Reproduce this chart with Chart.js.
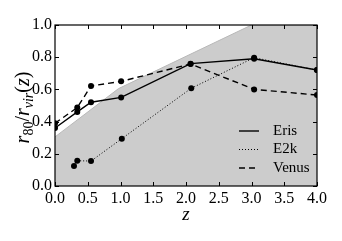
<!DOCTYPE html>
<html>
<head>
<meta charset="utf-8">
<script src="https://cdn.jsdelivr.net/npm/chart.js@4/dist/chart.umd.min.js"></script>
<style>
  html, body { margin: 0; padding: 0; background: #fff; }
  #wrap { width: 342px; height: 241px; }
</style>
</head>
<body>
<div id="wrap"><canvas id="myChart"></canvas></div>
<script>
// redshift / r80 values
const erisZ = [0.0, 0.34, 0.55, 1.01, 2.07, 3.04, 4.0];
const erisR = [0.36, 0.46, 0.52, 0.55, 0.76, 0.79, 0.72];

const e2kZ = [0.29, 0.34, 0.55, 1.02, 2.08, 3.04, 4.0];
const e2kR = [0.125, 0.157, 0.155, 0.294, 0.607, 0.797, 0.72];

const venusZ = [0.0, 0.34, 0.55, 1.01, 2.07, 3.04, 4.0];
const venusR = [0.39, 0.487, 0.621, 0.65, 0.758, 0.60, 0.565];

// upper edge of the grey band
const bandZ = [0.0, 0.97, 3.0, 4.0];
const bandR = [0.305, 0.605, 1.0, 1.0];

const xTicks = [0, 0.5, 1, 1.5, 2, 2.5, 3, 3.5, 4];
const yTicks = [0, 0.2, 0.4, 0.6, 0.8, 1.0];

const serif = "'Liberation Serif', 'DejaVu Serif', serif";

const pts = (xs, ys) => xs.map((x, i) => ({ x: x, y: ys[i] }));

const lineSet = (label, xs, ys, dash, width) => ({
    label: label,
    data: pts(xs, ys),
    showLine: true,
    borderColor: "#000",
    backgroundColor: "#000",
    borderWidth: width,
    borderDash: dash,
    pointRadius: 3,
    pointBorderWidth: 0,
    pointBackgroundColor: "#000",
    fill: false,
    tension: 0,
});

// inward ticks on all four sides + black frame
const frame = {
    id: "frame",
    afterDatasetsDraw(chart) {
        const ctx = chart.ctx;
        const a = chart.chartArea;
        const xs = chart.scales.x, ys = chart.scales.y;
        ctx.save();
        ctx.strokeStyle = "#000";
        ctx.lineWidth = 1;
        ctx.beginPath();
        xTicks.forEach((v) => {
            const px = Math.round(xs.getPixelForValue(v)) + 0.5;
            ctx.moveTo(px, a.bottom); ctx.lineTo(px, a.bottom - 4);
            ctx.moveTo(px, a.top); ctx.lineTo(px, a.top + 4);
        });
        yTicks.forEach((v) => {
            const py = Math.round(ys.getPixelForValue(v)) + 0.5;
            ctx.moveTo(a.left, py); ctx.lineTo(a.left + 4, py);
            ctx.moveTo(a.right, py); ctx.lineTo(a.right - 4, py);
        });
        ctx.stroke();
        ctx.lineWidth = 1.2;
        ctx.strokeRect(a.left, a.top, a.right - a.left, a.bottom - a.top);
        ctx.restore();
    },
    afterDraw(chart) {
        const ctx = chart.ctx;
        const a = chart.chartArea;
        ctx.save();
        ctx.fillStyle = "#000";
        ctx.textBaseline = "alphabetic";

        // y axis title r80 / rvir(z)
        const parts = [
            ["italic 20px " + serif, "r", 0],
            ["14px " + serif, "80", 4],
            ["20px " + serif, "/", 0],
            ["italic 20px " + serif, "r", 0],
            ["italic 14px " + serif, "vir", 4],
            ["20px " + serif, "(", 0],
            ["italic 20px " + serif, "z", 0],
            ["20px " + serif, ")", 0],
        ];
        let total = 0;
        parts.forEach((p) => { ctx.font = p[0]; total += ctx.measureText(p[1]).width; });
        ctx.translate(29, (a.top + a.bottom) / 2 + 2);
        ctx.rotate(-Math.PI / 2);
        let x = -total / 2;
        parts.forEach((p) => {
            ctx.font = p[0];
            ctx.fillText(p[1], x, p[2]);
            x += ctx.measureText(p[1]).width;
        });
        ctx.setTransform(1, 0, 0, 1, 0, 0);

        // x axis title
        ctx.font = "italic 19px " + serif;
        ctx.textAlign = "center";
        ctx.fillText("z", (a.left + a.right) / 2, 220);

        // legend in the lower right
        ctx.textAlign = "left";
        ctx.textBaseline = "middle";
        ctx.font = "15px " + serif;
        const rows = chart.data.datasets.slice(0, 3);
        rows.forEach((ds, i) => {
            const y = 131 + i * 18.5;
            ctx.beginPath();
            ctx.lineWidth = ds.borderWidth;
            ctx.setLineDash(ds.borderDash);
            ctx.moveTo(239, y);
            ctx.lineTo(259, y);
            ctx.stroke();
            ctx.setLineDash([]);
            ctx.fillText(ds.label, 273, y);
        });
        ctx.restore();
    },
};

new Chart(document.getElementById("myChart"), {
    type: "scatter",
    data: {
        datasets: [
            lineSet("Eris", erisZ, erisR, [], 1.4),
            lineSet("E2k", e2kZ, e2kR, [1, 2], 1),
            lineSet("Venus", venusZ, venusR, [6, 4], 1.4),
            {
                label: "band",
                data: pts(bandZ, bandR),
                showLine: true,
                borderColor: "#b8b8b8",
                borderWidth: 1,
                backgroundColor: "#cccccc",
                pointRadius: 0,
                fill: "origin",
                tension: 0,
            },
        ],
    },
    options: {
        responsive: true,
        maintainAspectRatio: false,
        animation: false,
        layout: { padding: { top: 25, right: 25, left: 0, bottom: 0 } },
        plugins: {
            legend: { display: false },
            tooltip: { enabled: false },
        },
        scales: {
            x: {
                type: "linear",
                min: 0,
                max: 4,
                afterFit: (s) => { s.height = 55; },
                afterBuildTicks: (s) => { s.ticks = xTicks.map((v) => ({ value: v })); },
                grid: { display: false, drawTicks: false },
                border: { display: false },
                ticks: {
                    autoSkip: false,
                    maxRotation: 0,
                    padding: 3,
                    color: "#000",
                    font: { family: serif, size: 16 },
                    callback: (v) => v.toFixed(1),
                },
            },
            y: {
                type: "linear",
                min: 0,
                max: 1,
                afterFit: (s) => { s.width = 55; },
                afterBuildTicks: (s) => { s.ticks = yTicks.map((v) => ({ value: v })); },
                grid: { display: false, drawTicks: false },
                border: { display: false },
                ticks: {
                    autoSkip: false,
                    padding: 3,
                    color: "#000",
                    font: { family: serif, size: 16 },
                    callback: (v) => v.toFixed(1),
                },
            },
        },
    },
    plugins: [frame],
});
</script>
</body>
</html>
